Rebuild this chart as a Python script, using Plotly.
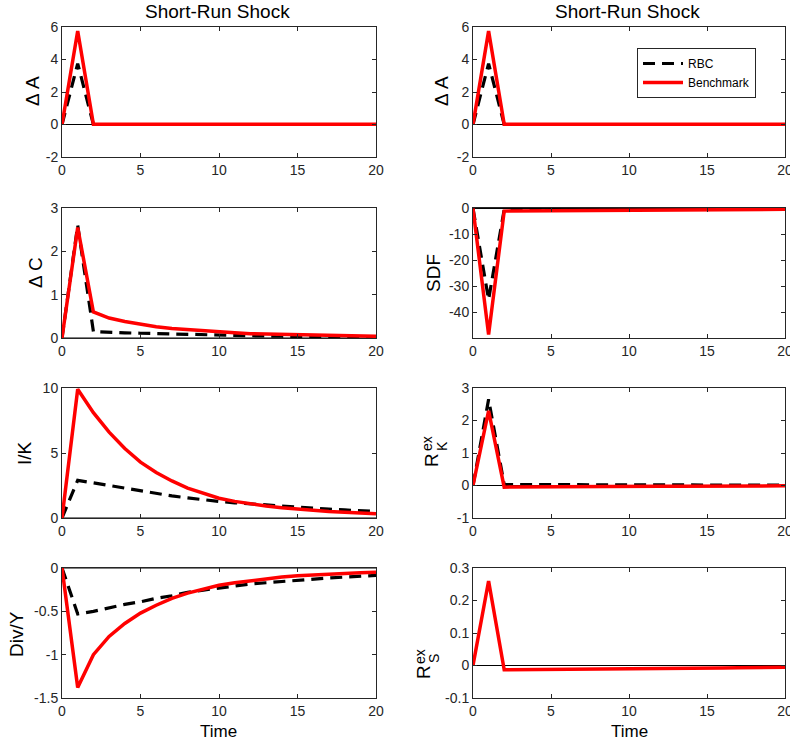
import plotly.graph_objects as go

# ---------------- data ----------------
time = [0, 1, 2, 3, 4, 5, 6, 7, 8, 9, 10, 11, 12, 13, 14, 15, 16, 17, 18, 19, 20]
zeros = [0, 0, 0, 0, 0, 0, 0, 0, 0, 0, 0, 0, 0, 0, 0, 0, 0, 0, 0, 0, 0]

dA_rbc = [0, 3.75, 0, 0, 0, 0, 0, 0, 0, 0, 0, 0, 0, 0, 0, 0, 0, 0, 0, 0, 0]
dA_bench = [0, 5.75, 0.02, 0.02, 0.02, 0.02, 0.02, 0.02, 0.02, 0.02, 0.02,
            0.02, 0.02, 0.02, 0.02, 0.02, 0.02, 0.02, 0.02, 0.02, 0.02]

dC_rbc = [0, 2.6, 0.15, 0.13, 0.12, 0.11, 0.1, 0.09, 0.08, 0.07, 0.06,
          0.055, 0.05, 0.045, 0.04, 0.035, 0.03, 0.027, 0.024, 0.021, 0.02]
dC_bench = [0, 2.55, 0.6, 0.46, 0.38, 0.31, 0.26, 0.22, 0.19, 0.16, 0.14,
            0.12, 0.1, 0.09, 0.08, 0.07, 0.06, 0.055, 0.05, 0.045, 0.04]

ik_rbc = [0, 2.9, 2.7, 2.5, 2.27, 2.05, 1.86, 1.7, 1.55, 1.4, 1.27,
          1.17, 1.08, 1.0, 0.9, 0.82, 0.75, 0.68, 0.62, 0.56, 0.5]
ik_bench = [0, 9.9, 8.1, 6.6, 5.35, 4.3, 3.5, 2.85, 2.3, 1.88, 1.52,
            1.28, 1.08, 0.92, 0.78, 0.67, 0.58, 0.5, 0.44, 0.38, 0.33]

div_rbc = [0, -0.53, -0.5, -0.46, -0.42, -0.39, -0.35, -0.32, -0.28, -0.255, -0.23,
           -0.205, -0.185, -0.17, -0.155, -0.14, -0.13, -0.115, -0.105, -0.095, -0.085]
div_bench = [0, -1.38, -1.0, -0.79, -0.64, -0.52, -0.43, -0.35, -0.29, -0.24, -0.2,
             -0.17, -0.145, -0.125, -0.105, -0.09, -0.08, -0.07, -0.06, -0.055, -0.05]

sdf_rbc = [0, -35, -0.4, -0.3, -0.25, -0.2, -0.18, -0.16, -0.14, -0.12, -0.1,
           -0.09, -0.08, -0.07, -0.06, -0.05, -0.05, -0.04, -0.04, -0.03, -0.03]
sdf_bench = [0, -48.5, -1.0, -0.95, -0.9, -0.85, -0.8, -0.76, -0.72, -0.68, -0.64,
             -0.6, -0.56, -0.53, -0.5, -0.47, -0.44, -0.41, -0.38, -0.35, -0.32]

rk_rbc = [0, 2.65, 0.03, 0.03, 0.025, 0.025, 0.02, 0.02, 0.02, 0.018, 0.016,
          0.015, 0.014, 0.013, 0.012, 0.011, 0.01, 0.01, 0.01, 0.01, 0.01]
rk_bench = [0, 2.3, -0.05, -0.045, -0.042, -0.04, -0.037, -0.035, -0.032, -0.03, -0.028,
            -0.026, -0.024, -0.022, -0.02, -0.018, -0.016, -0.014, -0.012, -0.011, -0.01]

rs_bench = [0, 0.26, -0.013, -0.0128, -0.0125, -0.012, -0.0117, -0.0113, -0.011, -0.0105, -0.01,
            -0.0096, -0.0092, -0.0088, -0.0084, -0.008, -0.0074, -0.0068, -0.0062, -0.0056, -0.005]

x_ticks = [0, 5, 10, 15, 20]
x_ticktext = ["0", "5", "10", "15", "20"]

yA_ticks = [-2, 0, 2, 4, 6]
yA_text = ["-2", "0", "2", "4", "6"]
yC_ticks = [0, 1, 2, 3]
yC_text = ["0", "1", "2", "3"]
yIK_ticks = [0, 5, 10]
yIK_text = ["0", "5", "10"]
yDiv_ticks = [-1.5, -1, -0.5, 0]
yDiv_text = ["-1.5", "-1", "-0.5", "0"]
ySDF_ticks = [-40, -30, -20, -10, 0]
ySDF_text = ["-40", "-30", "-20", "-10", "0"]
yRK_ticks = [-1, 0, 1, 2, 3]
yRK_text = ["-1", "0", "1", "2", "3"]
yRS_ticks = [-0.1, 0, 0.1, 0.2, 0.3]
yRS_text = ["-0.1", "0", "0.1", "0.2", "0.3"]

# ---------------- layout helpers ----------------
W, H = 790, 746
FONT = "Liberation Sans, Arial, Helvetica, sans-serif"
AX = "#262626"
RBC_DASH = "12px,7px"

def px_x(p):
    return p / W

def px_y(p):
    return 1 - p / H

col_x = [(62, 376), (473, 785)]
row_y = [(27, 157), (208, 338), (388, 518), (568, 698)]

panels = [
    # (row, col, rbc, bench, yrange, yticks, ytext)
    (0, 0, dA_rbc, dA_bench, [-2, 6], yA_ticks, yA_text),
    (0, 1, dA_rbc, dA_bench, [-2, 6], yA_ticks, yA_text),
    (1, 0, dC_rbc, dC_bench, [0, 3], yC_ticks, yC_text),
    (1, 1, sdf_rbc, sdf_bench, [-49.8, 0.2], ySDF_ticks, ySDF_text),
    (2, 0, ik_rbc, ik_bench, [0, 10], yIK_ticks, yIK_text),
    (2, 1, rk_rbc, rk_bench, [-1, 3], yRK_ticks, yRK_text),
    (3, 0, div_rbc, div_bench, [-1.5, 0], yDiv_ticks, yDiv_text),
    (3, 1, None, rs_bench, [-0.1, 0.3], yRS_ticks, yRS_text),
]

fig = go.Figure()
layout = dict(
    template="none",
    width=W, height=H,
    margin=dict(l=0, r=0, t=0, b=0, pad=0, autoexpand=False),
    paper_bgcolor="white", plot_bgcolor="white",
    font=dict(family=FONT, color=AX, size=14),
    showlegend=True,
)

for i, (r, c, rbc, bench, yr, yt, ytt) in enumerate(panels):
    n = i + 1
    xa = "x" if n == 1 else f"x{n}"
    ya = "y" if n == 1 else f"y{n}"
    xkey = "xaxis" if n == 1 else f"xaxis{n}"
    ykey = "yaxis" if n == 1 else f"yaxis{n}"
    x0, x1 = col_x[c]
    y0, y1 = row_y[r]
    common = dict(
        showline=True, linecolor=AX, linewidth=1, mirror="ticks",
        ticks="inside", ticklen=4, tickwidth=1, tickcolor=AX,
        showgrid=False, zeroline=False, automargin=False,
        ticklabeloverflow="allow",
        tickfont=dict(family=FONT, size=14, color=AX),
    )
    layout[xkey] = dict(domain=[px_x(x0), px_x(x1)], range=[0, 20], anchor=ya,
                        tickmode="array", tickvals=x_ticks, ticktext=x_ticktext, **common)
    layout[ykey] = dict(domain=[px_y(y1), px_y(y0)], range=yr, anchor=xa,
                        tickmode="array", tickvals=yt, ticktext=ytt, **common)

    legend_here = (r == 0 and c == 1)
    fig.add_trace(go.Scatter(x=time, y=zeros, mode="lines", xaxis=xa, yaxis=ya,
                             line=dict(color="black", width=1), showlegend=False,
                             hoverinfo="skip"))
    if rbc is not None:
        fig.add_trace(go.Scatter(x=time, y=rbc, mode="lines", xaxis=xa, yaxis=ya,
                                 name="RBC", showlegend=legend_here,
                                 line=dict(color="black", width=3.2, dash=RBC_DASH)))
    fig.add_trace(go.Scatter(x=time, y=bench, mode="lines", xaxis=xa, yaxis=ya,
                             name="Benchmark", showlegend=legend_here,
                             line=dict(color="#ff0000", width=3.5)))

layout["legend"] = dict(
    x=px_x(637), y=px_y(48), xanchor="left", yanchor="top",
    bordercolor=AX, borderwidth=1, bgcolor="white",
    font=dict(family=FONT, size=12, color="black"),
    tracegroupgap=0, itemwidth=40,
)

ann = []
def label(text, xp, yp, size=19, angle=-90, color="black"):
    ann.append(dict(text=text, x=px_x(xp), y=px_y(yp), xref="paper", yref="paper",
                    showarrow=False, xanchor="center", yanchor="middle",
                    textangle=angle, font=dict(family=FONT, size=size, color=color)))

# titles
label("Short-Run Shock", 217, 11, size=19, angle=0)
label("Short-Run Shock", 627, 11, size=19, angle=0)
label("Time", 219, 731, size=17, angle=0)
label("Time", 629, 731, size=17, angle=0)

# y labels
label("\u0394 A", 33, 91)
label("\u0394 C", 35, 273)
label("I/K", 25, 453)
label("Div/Y", 16, 634)
label("\u0394 A", 442, 91)
label("SDF", 433, 273)
label("R", 431, 460)
label("ex", 427, 444, size=14)
label("K", 442, 446, size=14)
label("R", 423, 672)
label("ex", 420, 656, size=14)
label("S", 434, 659, size=14)

layout["annotations"] = ann
fig.update_layout(**layout)

# remove the browser's default 8px body margin so the figure fills the window
fig.write_html(
    "out.html",
    config={"displayModeBar": False},
    post_script="document.body.style.margin='0';document.body.style.overflow='hidden';",
)
